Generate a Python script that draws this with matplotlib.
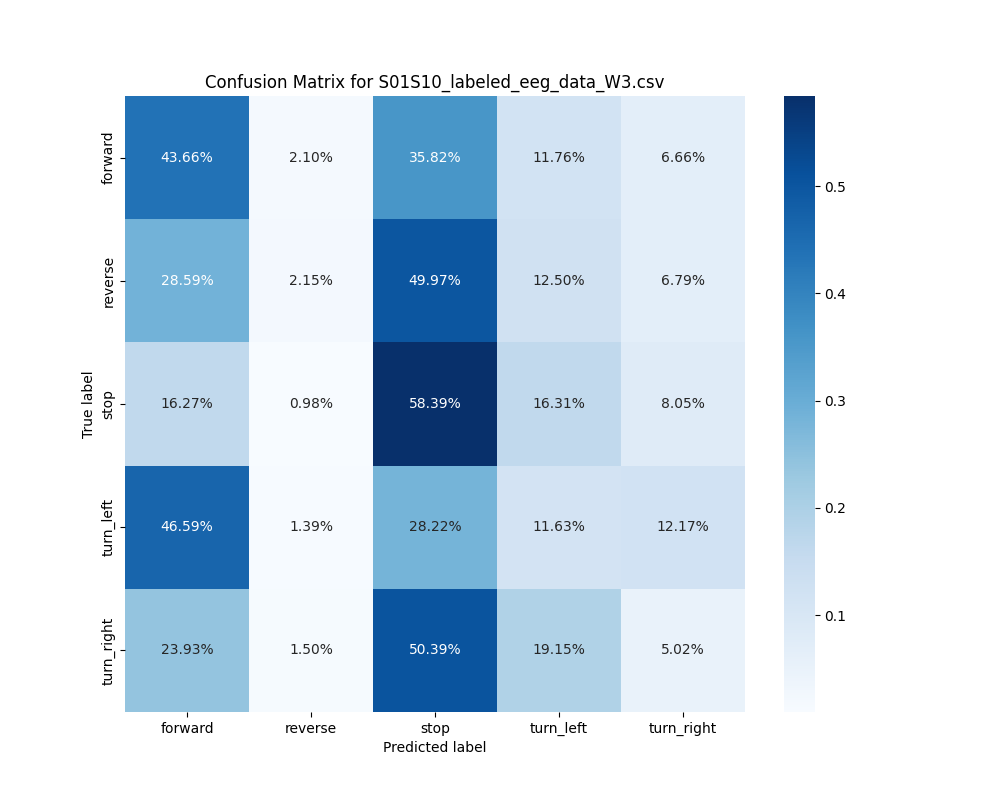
import matplotlib
matplotlib.use("Agg")
import matplotlib.pyplot as plt
import seaborn as sns
import numpy as np

labels = ["forward", "reverse", "stop", "turn_left", "turn_right"]
row_forward = [0.4366, 0.0210, 0.3582, 0.1176, 0.0666]
row_reverse = [0.2859, 0.0215, 0.4997, 0.1250, 0.0679]
row_stop = [0.1627, 0.0098, 0.5839, 0.1631, 0.0805]
row_turn_left = [0.4659, 0.0139, 0.2822, 0.1163, 0.1217]
row_turn_right = [0.2393, 0.0150, 0.5039, 0.1915, 0.0502]

cm = np.array([row_forward, row_reverse, row_stop, row_turn_left, row_turn_right])

fig = plt.figure(figsize=(10, 8), dpi=100)
ax = sns.heatmap(cm, annot=True, fmt=".2%", cmap="Blues",
                 xticklabels=labels, yticklabels=labels)
ax.set_title("Confusion Matrix for S01S10_labeled_eeg_data_W3.csv")
ax.set_xlabel("Predicted label")
ax.set_ylabel("True label")
fig.savefig("out.png", dpi=100)
